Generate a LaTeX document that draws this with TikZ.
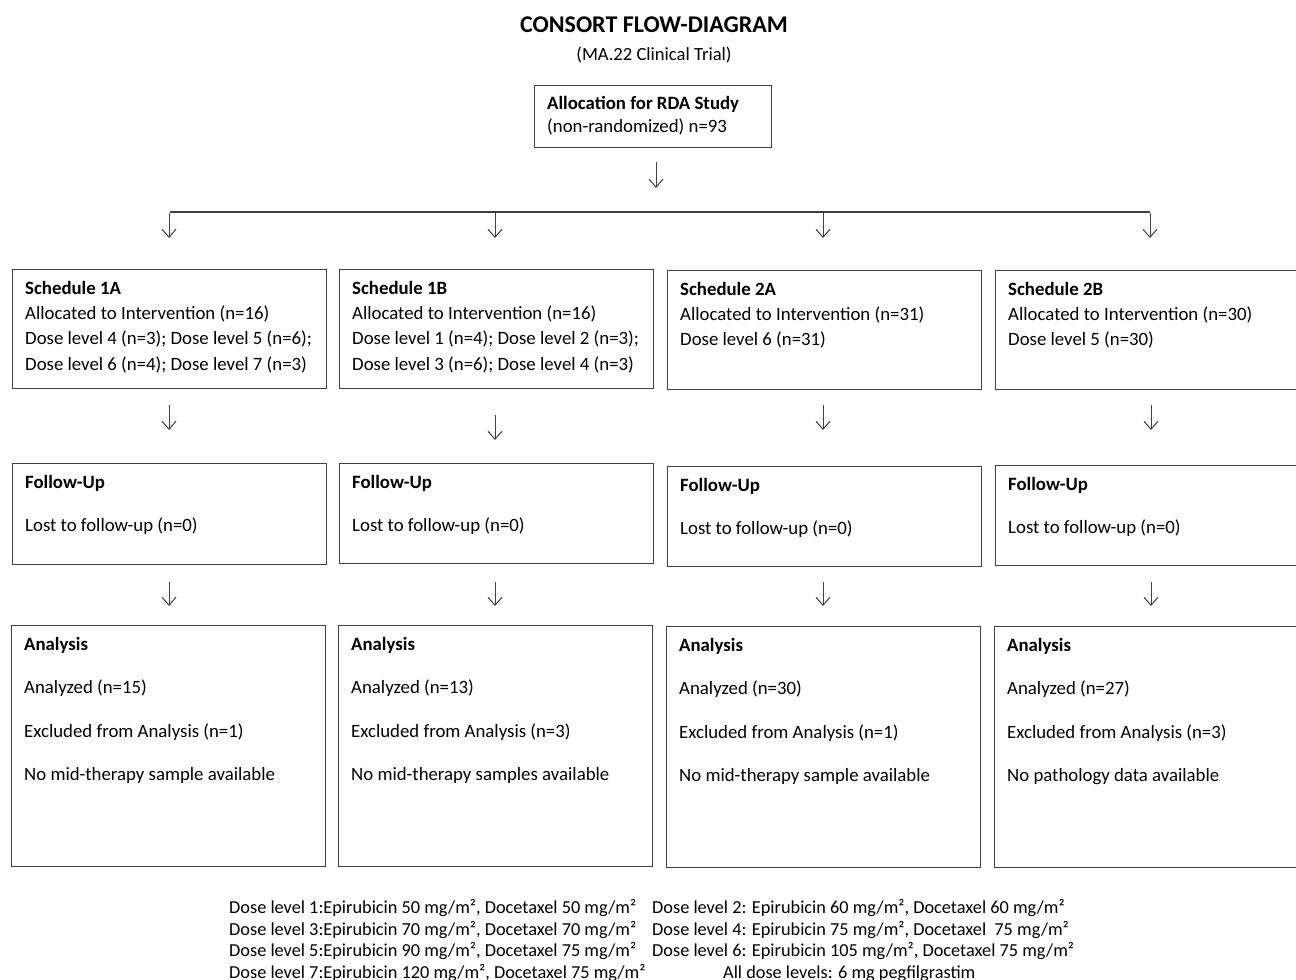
\documentclass[tikz,border=0pt]{standalone}
\usepackage{fontspec}
\setmainfont{Carlito}
\usetikzlibrary{arrows.meta,calc}
\definecolor{ln}{HTML}{404040}
\begin{document}
\begin{tikzpicture}[x=1pt,y=-1pt,
 box/.style={draw=ln,line width=1.3pt,rectangle,anchor=north west,inner sep=0pt,minimum width=314pt},
 txt/.style={anchor=base west,inner sep=0pt,font=\fontsize{18.8}{22}\selectfont},
 foot/.style={anchor=base west,inner sep=0pt,font=\fontsize{18.3}{21}\selectfont},
 arr/.style={draw=ln,line width=1pt,-{Straight Barb[length=8pt,width=14pt]}}]
\useasboundingbox (0,0) rectangle (1296,980);
% titles
\node[anchor=base,inner sep=0pt,font=\fontsize{24}{28}\selectfont\bfseries] (title) at (654,32) {CONSORT FLOW-DIAGRAM};
\node[anchor=base,inner sep=0pt,font=\fontsize{18.6}{22}\selectfont] (sub) at (654,60) {(MA.22 Clinical Trial)};
% allocation
\node[box,minimum width=237pt,minimum height=62pt] (alloc) at (534,85) {};
\node[txt] at ($(alloc.north west)+(13,24)$) {\textbf{Allocation for RDA Study}};
\node[txt] at ($(alloc.north west)+(13,47)$) {(non-randomized) n=93};
% schedule boxes
\node[box,minimum height=119pt] (s1) at (12,269) {};
\node[box,minimum height=119pt] (s2) at (339,269) {};
\node[box,minimum height=119pt] (s3) at (667,270) {};
\node[box,minimum height=119pt] (s4) at (995,270) {};
\node[txt] at ($(s1.north west)+(13,25)$) {\textbf{Schedule 1A}};
\node[txt] at ($(s1.north west)+(13,50)$) {Allocated to Intervention (n=16)};
\node[txt] at ($(s1.north west)+(13,75)$) {Dose level 4 (n=3); Dose level 5 (n=6);};
\node[txt] at ($(s1.north west)+(13,101)$) {Dose level 6 (n=4); Dose level 7 (n=3)};
\node[txt] at ($(s2.north west)+(13,25)$) {\textbf{Schedule 1B}};
\node[txt] at ($(s2.north west)+(13,50)$) {Allocated to Intervention (n=16)};
\node[txt] at ($(s2.north west)+(13,75)$) {Dose level 1 (n=4); Dose level 2 (n=3);};
\node[txt] at ($(s2.north west)+(13,101)$) {Dose level 3 (n=6); Dose level 4 (n=3)};
\node[txt] at ($(s3.north west)+(13,25)$) {\textbf{Schedule 2A}};
\node[txt] at ($(s3.north west)+(13,50)$) {Allocated to Intervention (n=31)};
\node[txt] at ($(s3.north west)+(13,75)$) {Dose level 6 (n=31)};
\node[txt] at ($(s4.north west)+(13,25)$) {\textbf{Schedule 2B}};
\node[txt] at ($(s4.north west)+(13,50)$) {Allocated to Intervention (n=30)};
\node[txt] at ($(s4.north west)+(13,75)$) {Dose level 5 (n=30)};
% follow-up boxes
\node[box,minimum height=101pt] (f1) at (12,463) {};
\node[box,minimum height=100pt] (f2) at (339,463) {};
\node[box,minimum height=100pt] (f3) at (667,466) {};
\node[box,minimum height=100pt] (f4) at (995,465) {};
\foreach \b in {f1,f2,f3,f4}{
  \node[txt] at ($(\b.north west)+(13,25)$) {\textbf{Follow-Up}};
  \node[txt] at ($(\b.north west)+(13,68)$) {Lost to follow-up (n=0)};
}
% analysis boxes
\node[box,minimum height=241pt] (n1) at (11,625) {};
\node[box,minimum height=241pt] (n2) at (338,625) {};
\node[box,minimum height=241pt] (n3) at (666,626) {};
\node[box,minimum height=241pt] (n4) at (994,626) {};
\foreach \b in {n1,n2,n3,n4}{
  \node[txt] at ($(\b.north west)+(13,25)$) {\textbf{Analysis}};
}
\node[txt] at ($(n1.north west)+(13,68)$) {Analyzed (n=15)};
\node[txt] at ($(n1.north west)+(13,112)$) {Excluded from Analysis (n=1)};
\node[txt] at ($(n1.north west)+(13,155)$) {No mid-therapy sample available};
\node[txt] at ($(n2.north west)+(13,68)$) {Analyzed (n=13)};
\node[txt] at ($(n2.north west)+(13,112)$) {Excluded from Analysis (n=3)};
\node[txt] at ($(n2.north west)+(13,155)$) {No mid-therapy samples available};
\node[txt] at ($(n3.north west)+(13,68)$) {Analyzed (n=30)};
\node[txt] at ($(n3.north west)+(13,112)$) {Excluded from Analysis (n=1)};
\node[txt] at ($(n3.north west)+(13,155)$) {No mid-therapy sample available};
\node[txt] at ($(n4.north west)+(13,68)$) {Analyzed (n=27)};
\node[txt] at ($(n4.north west)+(13,112)$) {Excluded from Analysis (n=3)};
\node[txt] at ($(n4.north west)+(13,155)$) {No pathology data available};
% connectors
\coordinate (a0s) at (656,162); \coordinate (a0e) at (656,188);
\draw[arr] (a0s) -- (a0e);
\coordinate (hl) at (170,212); \coordinate (hr) at (1150,212);
\draw[draw=ln,line width=1.3pt] (hl) -- (hr);
\foreach \x [count=\i] in {169,495,823,1150}{
  \coordinate (t\i s) at (\x,213); \coordinate (t\i e) at (\x,238);
  \draw[arr] (t\i s) -- (t\i e);
}
\foreach \x/\ya [count=\i] in {169/405,495/415,823/405,1151/405}{
  \coordinate (m\i s) at (\x,\ya); \coordinate (m\i e) at (\x,\ya+25);
  \draw[arr] (m\i s) -- (m\i e);
}
\foreach \x [count=\i] in {169,495,823,1151}{
  \coordinate (b\i s) at (\x,582); \coordinate (b\i e) at (\x,606);
  \draw[arr] (b\i s) -- (b\i e);
}
% footnote
\node[foot] (d1) at (229,913) {Dose level 1:Epirubicin 50 mg/m², Docetaxel 50 mg/m²};
\node[foot] (d3) at (229,935) {Dose level 3:Epirubicin 70 mg/m², Docetaxel 70 mg/m²};
\node[foot] (d5) at (229,956) {Dose level 5:Epirubicin 90 mg/m², Docetaxel 75 mg/m²};
\node[foot] (d7) at (229,978) {Dose level 7:Epirubicin 120 mg/m², Docetaxel 75 mg/m²};
\node[foot] (d2) at (652,913) {Dose level 2: Epirubicin 60 mg/m², Docetaxel 60 mg/m²};
\node[foot] (d4) at (652,935) {Dose level 4: Epirubicin 75 mg/m², Docetaxel~ 75 mg/m²};
\node[foot] (d6) at (652,956) {Dose level 6: Epirubicin 105 mg/m², Docetaxel 75 mg/m²};
\node[foot] (d8) at (723,978) {All dose levels: 6 mg pegfilgrastim};
\end{tikzpicture}
\end{document}
